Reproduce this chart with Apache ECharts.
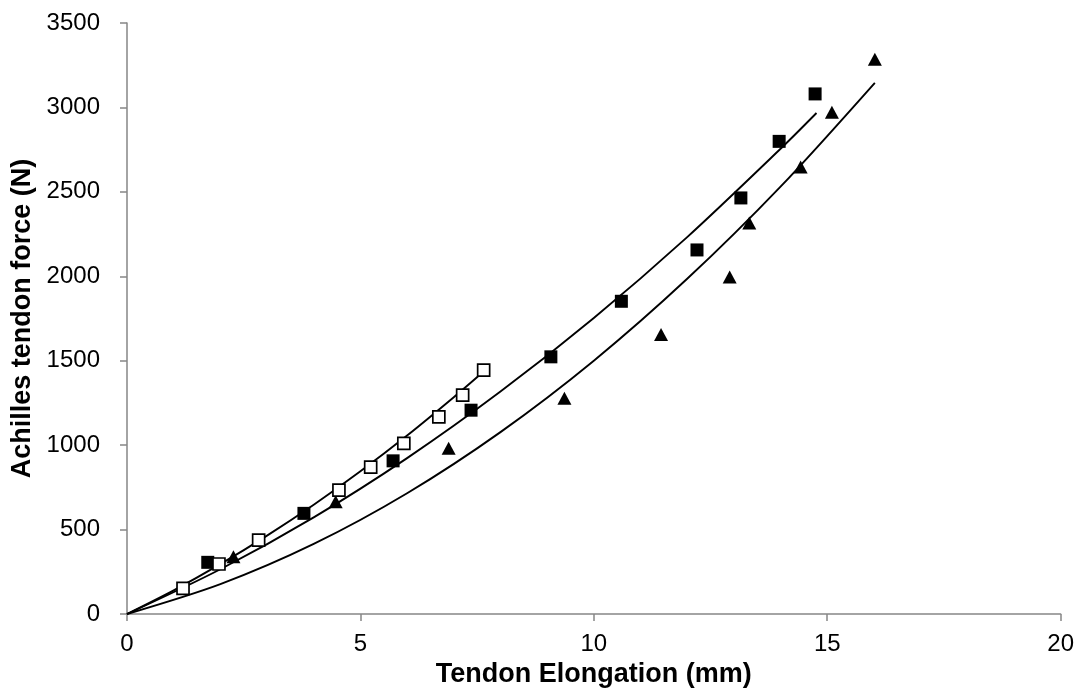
<!DOCTYPE html>
<html><head><meta charset="utf-8">
<script src="https://cdn.jsdelivr.net/npm/echarts@6/dist/echarts.min.js"></script>
<style>html,body{margin:0;padding:0;background:#fff}#c{width:1077px;height:700px}</style>
</head><body><div id="c"></div>
<script>
// Data
const xTicks = [0, 5, 10, 15, 20];
const yTicks = [0, 500, 1000, 1500, 2000, 2500, 3000, 3500];

// Filled squares
const filledSqX = [1.73, 3.79, 5.70, 7.37, 9.08, 10.59, 12.21, 13.15, 13.97, 14.74];
const filledSqY = [306, 596, 907, 1207, 1523, 1852, 2156, 2464, 2799, 3080];

// Filled triangles
const triX = [2.28, 4.47, 6.89, 9.37, 11.44, 12.91, 13.33, 14.43, 15.10, 16.02];
const triY = [339, 665, 981, 1277, 1655, 1996, 2316, 2647, 2971, 3285];

// Open squares
const openSqX = [1.20, 1.97, 2.82, 4.54, 5.22, 5.93, 6.68, 7.19, 7.64];
const openSqY = [152, 296, 438, 734, 870, 1010, 1167, 1296, 1444];

// Trend curves
const curveOpenX = [0, 1, 2, 3, 4, 5, 6, 7, 7.64];
const curveOpenY = [0, 140, 295, 464, 647, 845, 1057, 1284, 1436];
const curveFilledX = [0, 2, 4, 6, 8, 10, 12, 14, 14.77];
const curveFilledY = [0, 265, 572, 923, 1317, 1753, 2232, 2755, 2967];
const curveTriX = [0, 2, 4, 6, 8, 10, 12, 14, 16.02];
const curveTriY = [0, 177, 415, 715, 1077, 1500, 1985, 2531, 3146];

const pairs = (xs, ys) => xs.map((x, i) => [x, ys[i]]);

const FONT = '"Liberation Sans", Arial, sans-serif';
const axisGray = '#868686';

const lineStyle = { color: '#000', width: 1.9 };
const mkLine = (xs, ys) => ({
  type: 'line', data: pairs(xs, ys), showSymbol: false, symbol: 'none',
  smooth: 0.3, lineStyle, z: 2, silent: true, animation: false
});

const chart = echarts.init(document.getElementById('c'), null, { renderer: 'canvas' });
chart.setOption({
  animation: false,
  backgroundColor: '#fff',
  grid: { left: 127, right: 15, top: 23, bottom: 86, containLabel: false },
  xAxis: {
    type: 'value', min: xTicks[0], max: xTicks[xTicks.length - 1], interval: 5,
    name: 'Tendon Elongation (mm)', nameLocation: 'middle', nameGap: 45,
    nameTextStyle: { fontFamily: FONT, fontWeight: 'bold', fontSize: 27, color: '#000' },
    axisLine: { show: true, lineStyle: { color: axisGray, width: 1.5 } },
    axisTick: { show: true, inside: false, length: 7, lineStyle: { color: axisGray, width: 1.5 } },
    axisLabel: { fontFamily: FONT, fontSize: 24, color: '#000', margin: 18,
                 formatter: v => String(v) },
    splitLine: { show: false }
  },
  yAxis: {
    type: 'value', min: yTicks[0], max: yTicks[yTicks.length - 1], interval: 500,
    name: 'Achilles tendon force (N)', nameLocation: 'middle', nameGap: 90, nameRotate: 90,
    nameTextStyle: { fontFamily: FONT, fontWeight: 'bold', fontSize: 27, color: '#000' },
    axisLine: { show: true, lineStyle: { color: axisGray, width: 1.5 } },
    axisTick: { show: true, inside: false, length: 7, lineStyle: { color: axisGray, width: 1.5 } },
    axisLabel: { fontFamily: FONT, fontSize: 24, color: '#000', margin: 27,
                 formatter: v => String(v) },
    splitLine: { show: false }
  },
  series: [
    mkLine(curveOpenX, curveOpenY),
    mkLine(curveFilledX, curveFilledY),
    mkLine(curveTriX, curveTriY),
    { type: 'scatter', data: pairs(filledSqX, filledSqY), symbol: 'rect', symbolSize: 13,
      itemStyle: { color: '#000', opacity: 1 }, z: 3 },
    { type: 'scatter', data: pairs(triX, triY), symbol: 'triangle', symbolSize: [14, 13],
      itemStyle: { color: '#000', opacity: 1 }, z: 3 },
    { type: 'scatter', data: pairs(openSqX, openSqY), symbol: 'rect', symbolSize: 12,
      itemStyle: { color: '#fff', borderColor: '#000', borderWidth: 1.7, opacity: 1 }, z: 4 }
  ]
});
</script>
</body></html>
